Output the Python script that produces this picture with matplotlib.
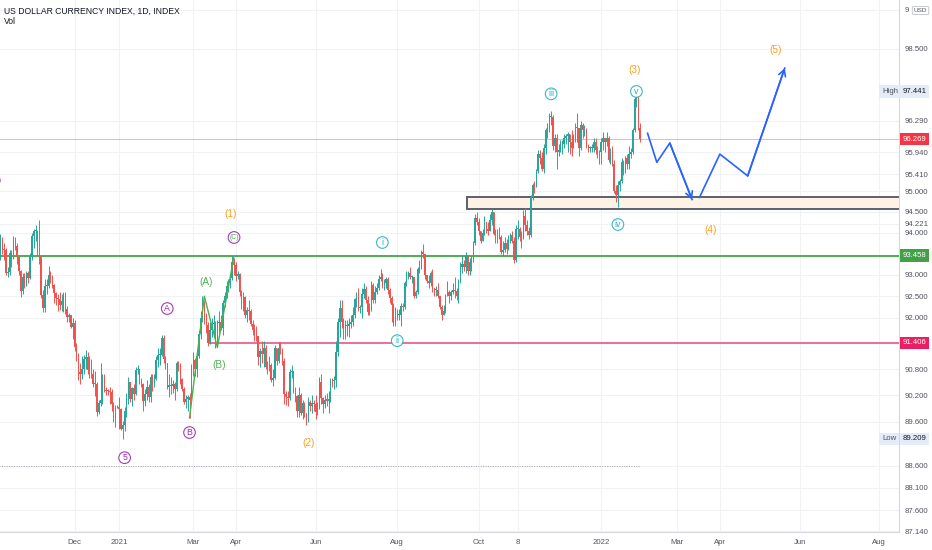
import matplotlib
matplotlib.use('Agg')
import matplotlib.pyplot as plt
import matplotlib.ticker as mticker
from matplotlib.patches import Rectangle
import numpy as np
import pandas as pd

plt.rcParams['font.family'] = ['Liberation Sans Narrow', 'Liberation Sans', 'DejaVu Sans']

#%% Daily candles, one row per week (Mon..Fri), Oct 5 2020 -> Feb 1 2022

first_open = 93.85

close = [
    93.50, 93.87, 93.62, 93.60, 93.05,
    93.06, 93.52, 93.40, 93.87, 93.68,
    93.43, 93.10, 92.61, 92.96, 92.78,
    93.05, 92.92, 93.43, 93.92, 94.04,
    94.05, 93.53, 93.44, 92.52, 92.23,
    92.73, 92.75, 93.00, 92.95, 92.76,
    92.57, 92.45, 92.43, 92.30, 92.39,
    92.50, 92.20, 92.01, 92.05, 91.78,
    91.87, 91.32, 91.12, 90.71, 90.70,
    90.80, 91.04, 91.09, 90.77, 90.98,
    90.69, 90.45, 90.46, 89.82, 90.02,
    90.10, 90.67, 90.33, 90.30, 90.29,
    90.27, 89.99, 89.67, 89.94, 89.94,
    89.88, 89.43, 89.53, 89.83, 90.10,
    90.50, 90.12, 90.36, 90.23, 90.77,
    90.80, 90.50, 90.47, 90.08, 90.23,
    90.40, 90.15, 90.62, 90.45, 90.58,
    91.02, 91.12, 91.13, 91.52, 91.03,
    90.95, 90.40, 90.43, 90.41, 90.47,
    90.35, 90.95, 90.93, 90.58, 90.35,
    90.05, 90.12, 90.15, 90.10, 90.88,
    91.01, 90.80, 91.11, 91.62, 91.98,
    92.33, 91.95, 91.82, 91.40, 91.70,
    91.85, 91.85, 91.45, 91.87, 91.90,
    91.75, 92.35, 92.50, 92.75, 92.77,
    92.93, 93.30, 93.23, 92.98, 93.02,
    92.60, 92.35, 92.48, 92.05, 92.17,
    92.16, 91.85, 91.70, 91.65, 91.56,
    91.07, 91.23, 91.15, 91.30, 90.86,
    90.85, 90.90, 90.56, 90.60, 91.28,
    91.00, 91.30, 91.27, 90.98, 90.22,
    90.16, 90.14, 90.73, 90.75, 90.30,
    90.18, 89.85, 90.20, 89.80, 90.02,
    89.80, 89.62, 90.05, 89.95, 90.03,
    90.00, 89.82, 89.90, 90.50, 90.13,
    90.00, 90.10, 90.08, 90.08, 90.55,
    90.52, 90.55, 91.20, 91.90, 92.23,
    91.90, 91.75, 91.80, 91.80, 91.85,
    91.90, 92.05, 92.44, 92.55, 92.23,
    92.25, 92.55, 92.67, 92.40, 92.12,
    92.20, 92.76, 92.40, 92.60, 92.70,
    92.90, 92.95, 92.80, 92.80, 92.90,
    92.65, 92.45, 92.30, 91.90, 92.17,
    92.05, 92.05, 92.28, 92.25, 92.80,
    92.95, 93.05, 92.95, 92.95, 92.50,
    92.60, 93.15, 93.20, 93.55, 93.50,
    93.00, 92.85, 92.80, 93.05, 92.70,
    92.65, 92.65, 92.50, 92.25, 92.05,
    92.15, 92.52, 92.60, 92.50, 92.60,
    92.65, 92.62, 92.50, 92.85, 93.20,
    93.25, 93.20, 93.45, 93.10, 93.30,
    93.35, 93.75, 94.35, 94.25, 94.05,
    93.80, 94.00, 94.25, 94.10, 94.05,
    94.30, 94.50, 93.98, 93.95, 93.95,
    93.90, 93.55, 93.60, 93.75, 93.62,
    93.85, 93.95, 93.80, 93.35, 94.10,
    94.10, 93.90, 93.90, 94.40, 94.20,
    94.05, 93.95, 94.85, 95.15, 95.10,
    95.50, 95.90, 95.80, 95.55, 96.05,
    96.50, 96.50, 96.80, 96.80, 96.10,
    96.30, 95.95, 96.00, 96.15, 96.15,
    96.30, 96.35, 96.40, 96.20, 96.05,
    96.30, 96.55, 96.55, 96.05, 96.60,
    96.50, 96.50, 96.10, 96.05, 96.05,
    96.05, 96.20, 96.00, 95.95, 95.95,
    96.20, 96.30, 96.20, 96.30, 95.75,
    95.95, 95.65, 95.00, 94.90, 95.15,
    95.25, 95.70, 95.50, 95.80, 95.65,
    95.90, 95.95, 96.50, 97.25, 97.30,
    96.55, 96.27,
]

high = [
    93.90, 93.98, 93.90, 93.75, 93.65,
    93.20, 93.60, 93.58, 93.92, 93.90,
    93.75, 93.45, 93.12, 93.05, 93.05,
    93.10, 93.10, 93.52, 94.00, 94.10,
    94.20, 94.08, 94.30, 93.45, 92.65,
    92.90, 92.90, 93.21, 93.10, 93.00,
    92.78, 92.60, 92.55, 92.60, 92.55,
    92.60, 92.60, 92.28, 92.10, 92.06,
    92.00, 91.95, 91.40, 91.18, 90.95,
    91.10, 91.13, 91.24, 91.20, 91.10,
    91.03, 90.80, 90.75, 90.50, 90.10,
    90.95, 90.70, 90.70, 90.40, 90.35,
    90.40, 90.35, 90.04, 89.98, 89.98,
    90.15, 89.90, 89.62, 89.93, 90.25,
    90.63, 90.50, 90.40, 90.45, 90.85,
    90.90, 90.80, 90.60, 90.48, 90.35,
    90.55, 90.45, 90.70, 90.70, 90.70,
    91.10, 91.30, 91.30, 91.60, 91.60,
    91.10, 90.95, 90.70, 90.62, 90.55,
    90.50, 91.00, 91.00, 90.95, 90.60,
    90.40, 90.20, 90.20, 90.25, 90.93,
    91.20, 91.05, 91.25, 91.70, 92.15,
    92.50, 92.38, 92.10, 91.90, 91.90,
    92.00, 92.05, 91.92, 91.95, 92.15,
    92.05, 92.40, 92.60, 92.85, 92.90,
    93.00, 93.44, 93.40, 93.30, 93.10,
    93.05, 92.65, 92.60, 92.50, 92.25,
    92.40, 92.20, 91.95, 91.85, 91.80,
    91.55, 91.30, 91.45, 91.45, 91.35,
    91.00, 91.10, 90.95, 90.80, 91.35,
    91.30, 91.43, 91.43, 91.30, 91.05,
    90.30, 90.30, 90.80, 90.90, 90.75,
    90.40, 90.20, 90.40, 90.25, 90.10,
    90.05, 89.80, 90.15, 90.10, 90.20,
    90.10, 90.20, 90.05, 90.62, 90.70,
    90.15, 90.20, 90.25, 90.30, 90.60,
    90.60, 90.65, 91.45, 92.00, 92.40,
    92.40, 92.00, 91.95, 91.95, 92.00,
    92.05, 92.25, 92.45, 92.60, 92.70,
    92.30, 92.70, 92.80, 92.75, 92.50,
    92.35, 92.85, 92.80, 92.75, 92.80,
    93.00, 93.15, 93.05, 92.90, 92.95,
    92.95, 92.70, 92.50, 92.35, 92.25,
    92.20, 92.20, 92.35, 92.35, 92.85,
    93.10, 93.10, 93.20, 93.00, 92.95,
    92.65, 93.20, 93.35, 93.60, 93.73,
    93.50, 93.00, 93.00, 93.10, 93.15,
    92.70, 92.75, 92.80, 92.50, 92.30,
    92.30, 92.55, 92.85, 92.65, 92.65,
    92.80, 92.95, 92.70, 92.90, 93.30,
    93.45, 93.35, 93.55, 93.45, 93.40,
    93.45, 93.80, 94.45, 94.50, 94.35,
    94.05, 94.10, 94.40, 94.25, 94.25,
    94.45, 94.56, 94.50, 94.10, 94.10,
    94.15, 93.95, 93.80, 93.90, 93.85,
    93.95, 94.00, 94.05, 93.90, 94.20,
    94.30, 94.15, 94.05, 94.55, 94.60,
    94.30, 94.15, 94.90, 95.20, 95.25,
    95.55, 96.00, 96.00, 95.95, 96.15,
    96.55, 96.65, 96.90, 96.95, 96.85,
    96.40, 96.40, 96.15, 96.25, 96.25,
    96.40, 96.40, 96.45, 96.35, 96.50,
    96.40, 96.65, 96.90, 96.55, 96.70,
    96.65, 96.60, 96.55, 96.15, 96.10,
    96.15, 96.30, 96.30, 96.10, 96.00,
    96.30, 96.45, 96.30, 96.45, 96.35,
    96.05, 96.10, 95.75, 95.15, 95.25,
    95.30, 95.80, 95.75, 95.85, 95.90,
    96.10, 96.05, 96.55, 97.30, 97.44,
    97.00, 96.65,
]

low = [
    93.40, 93.35, 93.50, 93.35, 93.00,
    92.95, 93.00, 93.20, 93.38, 93.58,
    93.26, 93.00, 92.47, 92.55, 92.70,
    92.74, 92.80, 92.90, 93.35, 93.64,
    93.80, 93.45, 93.25, 92.45, 92.13,
    92.14, 92.55, 92.70, 92.80, 92.70,
    92.35, 92.30, 92.15, 92.18, 92.15,
    92.12, 92.08, 91.90, 91.90, 91.75,
    91.50, 91.22, 90.98, 90.55, 90.47,
    90.57, 90.70, 90.80, 90.70, 90.60,
    90.60, 90.40, 90.18, 89.72, 89.78,
    89.95, 90.00, 90.28, 90.20, 90.20,
    90.00, 89.85, 89.60, 89.47, 89.90,
    89.42, 89.40, 89.21, 89.38, 89.70,
    90.00, 90.05, 89.95, 90.10, 90.20,
    90.70, 90.45, 90.40, 89.83, 89.95,
    90.10, 90.05, 90.05, 90.30, 90.40,
    90.55, 90.85, 90.90, 91.10, 90.95,
    90.80, 90.35, 90.15, 90.24, 90.25,
    90.10, 90.30, 90.75, 90.45, 90.30,
    90.00, 89.90, 89.85, 89.68, 90.00,
    90.65, 90.65, 90.62, 91.05, 91.50,
    91.90, 91.85, 91.65, 91.33, 91.38,
    91.55, 91.60, 91.30, 91.40, 91.65,
    91.70, 91.60, 92.25, 92.45, 92.60,
    92.70, 92.88, 93.00, 92.85, 92.90,
    92.50, 92.20, 92.15, 91.99, 91.90,
    91.95, 91.80, 91.60, 91.45, 91.45,
    90.90, 90.85, 90.95, 90.85, 90.80,
    90.70, 90.75, 90.50, 90.42, 90.58,
    90.90, 90.95, 91.15, 90.90, 90.00,
    89.98, 89.95, 90.10, 90.60, 90.25,
    90.05, 89.70, 89.70, 89.75, 89.65,
    89.70, 89.53, 89.60, 89.85, 89.80,
    89.85, 89.66, 89.75, 89.88, 90.00,
    89.80, 89.92, 89.95, 89.80, 90.05,
    90.40, 90.35, 90.40, 91.10, 91.55,
    91.75, 91.50, 91.50, 91.58, 91.55,
    91.75, 91.80, 92.00, 92.25, 92.15,
    92.10, 92.00, 92.45, 92.35, 92.05,
    92.05, 92.15, 92.35, 92.35, 92.55,
    92.65, 92.85, 92.70, 92.65, 92.70,
    92.55, 92.35, 91.90, 91.80, 91.80,
    91.95, 91.95, 91.80, 92.15, 92.20,
    92.75, 92.90, 92.90, 92.80, 92.45,
    92.45, 92.55, 93.05, 93.15, 93.40,
    92.90, 92.80, 92.70, 92.75, 92.60,
    92.50, 92.50, 92.45, 92.20, 91.94,
    92.05, 92.10, 92.50, 92.35, 92.40,
    92.55, 92.45, 92.40, 92.35, 92.80,
    93.05, 93.10, 93.05, 93.00, 93.00,
    93.10, 93.30, 93.70, 94.20, 93.95,
    93.75, 93.80, 93.95, 94.00, 93.95,
    94.05, 94.20, 93.95, 93.75, 93.75,
    93.85, 93.50, 93.45, 93.55, 93.50,
    93.60, 93.75, 93.75, 93.28, 93.30,
    93.85, 93.80, 93.65, 93.85, 94.05,
    93.95, 93.85, 93.90, 94.80, 94.95,
    95.15, 95.45, 95.65, 95.50, 95.45,
    95.90, 96.30, 96.45, 96.60, 96.00,
    95.95, 95.55, 95.85, 95.95, 95.90,
    96.05, 96.15, 95.95, 95.90, 95.85,
    96.05, 96.20, 96.20, 95.85, 96.00,
    96.30, 96.35, 96.05, 95.95, 95.95,
    95.95, 95.95, 95.90, 95.80, 95.65,
    95.65, 96.00, 95.95, 96.10, 95.70,
    95.65, 95.60, 94.95, 94.75, 94.63,
    95.00, 95.20, 95.40, 95.45, 95.55,
    95.55, 95.80, 95.90, 96.45, 97.05,
    96.50, 96.20,
]

#%% Levels, zone and annotations

green_level = 93.458
pink_level = 91.406
pink_start = '2021-03-11'
last_price = 96.269
dotted_level = 88.6
zone_start = '2021-09-23'
zone_low, zone_high = 94.56, 94.85
all_high, all_low = 97.441, 89.209

zig_dates = ['2021-02-25', '2021-03-09', '2021-03-18', '2021-03-31']
zig_prices = [89.68, 92.50, 91.30, 93.44]

path1_dates = ['2022-02-07', '2022-02-14', '2022-02-23', '2022-03-11']
path1_prices = [96.41, 95.70, 96.17, 94.80]
path2_dates = ['2022-03-17', '2022-04-01', '2022-04-22', '2022-05-20']
path2_prices = [94.85, 95.90, 95.37, 98.02]

orange = '#ff9f1a'
purple = '#9c27b0'
teal = '#22b3c0'
green = '#4caf50'
blue = '#2962ff'

# (text, date, price, text colour, ring colour or None)
waves = [
    ('(1)', '2021-03-29', 94.44, orange, None),
    ('(C)', '2021-03-31', 93.89, green, purple),
    ('(A)', '2021-03-10', 92.84, green, None),
    ('(B)', '2021-03-19', 90.90, green, None),
    ('A', '2021-02-09', 92.21, purple, purple),
    ('B', '2021-02-25', 89.35, purple, purple),
    ('5', '2021-01-07', 88.78, purple, purple),
    ('(2)', '2021-05-26', 89.12, orange, None),
    ('i', '2021-07-21', 93.77, teal, teal),
    ('ii', '2021-08-02', 91.46, teal, teal),
    ('iii', '2021-11-25', 97.38, teal, teal),
    ('(3)', '2022-01-27', 97.98, orange, None),
    ('v', '2022-01-28', 97.44, teal, teal),
    ('iv', '2022-01-14', 94.20, teal, teal),
    ('(4)', '2022-03-25', 94.08, orange, None),
    ('(5)', '2022-05-13', 98.48, orange, None),
]

ytick_val = [99.48, 98.5, 96.72, 95.94, 95.41, 95.0, 94.5, 94.221, 94.0, 93.0,
             92.5, 92.0, 90.8, 90.2, 89.6, 88.6, 88.1, 87.6, 87.14]
ytick_lbl = ['9', '98.500', '96.290', '95.940', '95.410', '95.000', '94.500',
             '94.221', '94.000', '93.000', '92.500', '92.000', '90.800', '90.200',
             '89.600', '88.600', '88.100', '87.600', '87.140']

xtick_dates = ['2020-12-01', '2021-01-04', '2021-03-01', '2021-04-01', '2021-06-01',
               '2021-08-02', '2021-10-01', '2021-11-01', '2022-01-03', '2022-03-01',
               '2022-04-01', '2022-06-01', '2022-08-01']
xtick_lbl = ['Dec', '2021', 'Mar', 'Apr', 'Jun', 'Aug', 'Oct', '8', '2022', 'Mar',
             'Apr', 'Jun', 'Aug']

#%% Build the arrays

close = np.array(close)
high = np.array(high)
low = np.array(low)
opens = np.r_[first_open, close[:-1]]
high = np.maximum(high, np.maximum(opens, close))
low = np.minimum(low, np.minimum(opens, close))

axis_dates = pd.bdate_range('2020-10-05', '2022-09-30')
pos = {d.strftime('%Y-%m-%d'): i for i, d in enumerate(axis_dates)}
assert len(close) == len(high) == len(low) == 347

def X(d):
    return pos[d]

#%% Plot

fig = plt.figure(figsize=(9.32, 5.5), dpi=100)
ax = fig.add_axes([0, 18 / 550, 899 / 932, 532 / 550])
ax.set_yscale('log')
x_left, x_right = 0.8, 485.6
ax.set_xlim(x_left, x_right)
ax.set_ylim(87.12, 99.73)

x = np.arange(len(close))
up = close >= opens
col = np.where(up, '#26a69a', '#ef5350')
ax.vlines(x, low, high, colors=col, lw=0.7, zorder=3)
body = np.maximum(np.abs(close - opens), 0.025)
ax.bar(x, body, bottom=np.minimum(opens, close), width=0.75, color=col, lw=0, zorder=3)

# horizontal levels
ax.axhline(green_level, color=green, lw=1.4, zorder=2)
ax.hlines(pink_level, X(pink_start), x_right + 5, color='#e8628c', lw=1.3, zorder=2)
ax.axhline(last_price, color='#f05a6a', lw=0.6, alpha=0.55, zorder=2)
ax.hlines(dotted_level, 0, len(close) - 1, colors='#a3a6af', lw=0.7,
          linestyles=(0, (1, 1.5)), zorder=2)

# zone
zx = X(zone_start) - 0.5
ax.add_patch(Rectangle((zx, zone_low), x_right + 5 - zx, zone_high - zone_low,
                       fc='#fdf2e6', ec='#5d606b', lw=1.4, zorder=2.5))

# green zigzag
ax.plot([X(d) for d in zig_dates], zig_prices, color=green, lw=1.0, zorder=4)

# projected path
for ds, ps in [(path1_dates, path1_prices), (path2_dates, path2_prices)]:
    xs = [X(d) for d in ds]
    ax.plot(xs, ps, color=blue, lw=1.2, zorder=4)
    ax.annotate('', xy=(xs[-1], ps[-1]), xytext=(xs[-2], ps[-2]),
                arrowprops=dict(arrowstyle='->,head_length=0.45,head_width=0.25',
                                color=blue, lw=1.2, shrinkA=0, shrinkB=0), zorder=4)

# wave labels
for txt, d, p, c, ring in waves:
    if ring:
        fs = 5 if txt.startswith('(') else 6.3
        ax.text(X(d), p, txt, color=c, fontsize=fs, ha='center', va='center', zorder=5,
                bbox=dict(boxstyle='circle,pad=0.15', fc='white', ec=ring, lw=0.8, alpha=0.9))
    else:
        ax.text(X(d), p, txt, color=c, fontsize=7.2, ha='center', va='center', zorder=5)

# cut-off label at left edge
ax.plot([-2.2], [95.28], marker='o', ms=8, mfc='none', mec=purple, mew=0.8, clip_on=True)

# axes styling
for s in ['top', 'left']:
    ax.spines[s].set_visible(False)
for s in ['right', 'bottom']:
    ax.spines[s].set_color('#d6d8de')
    ax.spines[s].set_linewidth(0.8)

ax.yaxis.set_minor_locator(mticker.NullLocator())
ax.yaxis.set_minor_formatter(mticker.NullFormatter())
ax.set_yticks(ytick_val, ytick_lbl)
ax.tick_params(axis='y', length=0, labelsize=5.6, labelcolor='#50535e',
               left=False, labelleft=False, right=False, labelright=True, pad=4)
ax.set_xticks([X(d) for d in xtick_dates], xtick_lbl)
ax.tick_params(axis='x', length=0, labelsize=5.6, labelcolor='#50535e', pad=5)
ax.grid(True, color='#f1f2f6', lw=0.8, zorder=0)
ax.set_axisbelow(True)

# price labels on the scale
yax = ax.get_yaxis_transform()
def scale_label(price, txt, fc, tc, xpos=1.004):
    ax.text(xpos, price, txt, transform=yax, fontsize=5.6, color=tc, ha='left',
            va='center', clip_on=False, zorder=10,
            bbox=dict(boxstyle='square,pad=0.35', fc=fc, ec='none'))

scale_label(last_price, '96.269', '#f23645', 'white')
scale_label(green_level, '93.458', '#43a047', 'white')
scale_label(pink_level, '91.406', '#e91e63', 'white')
scale_label(all_high, '97.441', '#e3ecf8', '#131722')
scale_label(all_low, '89.209', '#e3ecf8', '#131722')
scale_label(all_high, 'High', '#e3ecf8', '#50535e', xpos=0.981)
scale_label(all_low, 'Low', '#e3ecf8', '#50535e', xpos=0.981)

fig.text(0.9805, 0.981, 'USD', fontsize=4.6, color='#50535e', ha='left', va='center',
         bbox=dict(boxstyle='round,pad=0.25', fc='white', ec='#b2b5be', lw=0.5))

fig.text(4 / 932, 1 - 11 / 550, 'US DOLLAR CURRENCY INDEX, 1D, INDEX', fontsize=6.2,
         color='#131722', ha='left', va='center')
fig.text(4 / 932, 1 - 22 / 550, 'Vol', fontsize=6.2, color='#131722', ha='left', va='center')

plt.savefig('out.png', dpi=100)
